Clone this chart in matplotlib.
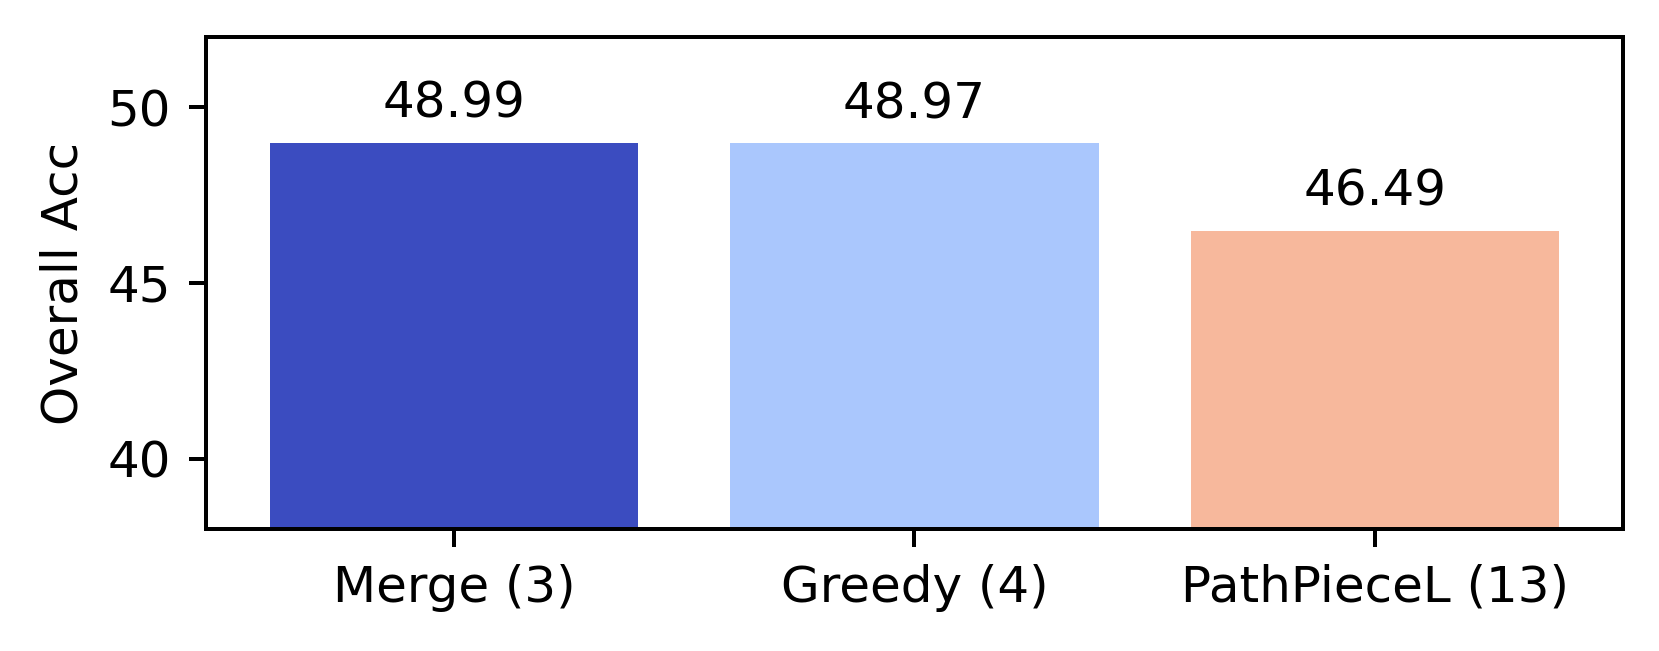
import numpy as np
import matplotlib.pyplot as plt

# tokenizer results
methods = ['Merge (3)', 'Greedy (4)', 'PathPieceL (13)']
overall_acc = [48.99, 48.97, 46.49]

colors = plt.cm.coolwarm(np.linspace(0, 1, 4))[:3]

fig = plt.figure(figsize=(1660 / 360, 651 / 360), dpi=360)
ax = fig.add_axes([206 / 1660, 1 - 529 / 651, (1623 - 206) / 1660, (529 - 37) / 651])

bars = ax.bar(methods, overall_acc, color=colors, width=0.8)
ax.bar_label(bars, labels=[f'{v:.2f}' for v in overall_acc], padding=3, fontsize=10)

ax.set_ylim(38, 52)
ax.set_yticks([40, 45, 50])
ax.set_ylabel('Overall Acc', fontsize=10)
ax.tick_params(labelsize=10)

fig.savefig('out.png', dpi=360)
